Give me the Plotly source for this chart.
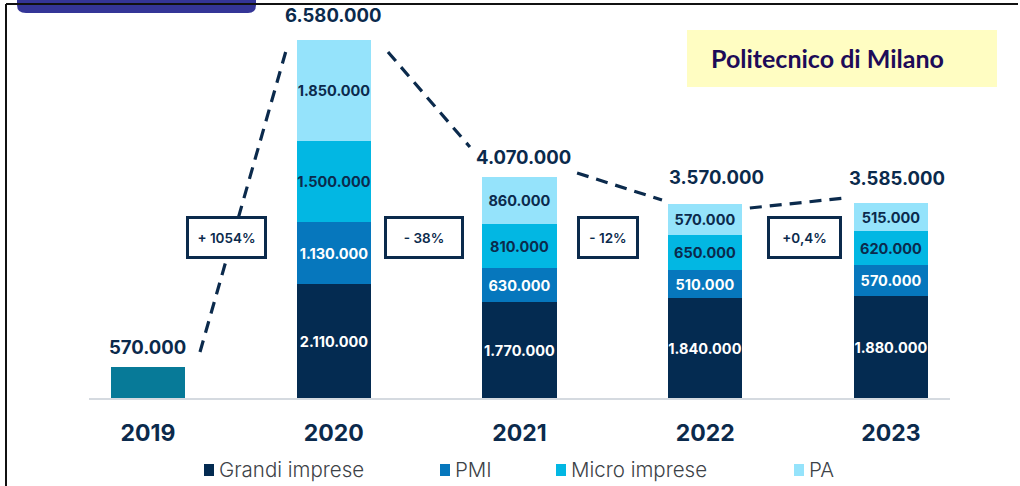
import plotly.graph_objects as go

# --- data -------------------------------------------------------------
years = ["2019", "2020", "2021", "2022", "2023"]
total_2019 = 570000
grandi_imprese = [2110000, 1770000, 1840000, 1880000]   # 2020-2023
pmi = [1130000, 630000, 510000, 570000]
micro_imprese = [1500000, 810000, 650000, 620000]
pa = [1850000, 860000, 570000, 515000]
totals = [570000, 6580000, 4070000, 3570000, 3585000]   # reported totals
variations = ["+ 1054%", "- 38%", "- 12%", "+0,4%"]
series_names = ["Grandi imprese", "PMI", "Micro imprese", "PA"]

# --- style ------------------------------------------------------------
NAVY = "#0b2a4c"
C_GRANDI = "#042b51"
C_PMI = "#0677bd"
C_MICRO = "#02b7e3"
C_PA = "#95e3fb"
C_2019 = "#077a98"
FONT = "Inter"

W, H = 1020, 486
L, R, T, B = 89, 70, 0, 88
PW, PH = W - L - R, H - T - B
Y_MAX = 7335000


def px(x):
    return (x - L) / PW


def py(y):
    return (H - B - y) / PH


def it(v):
    return f"{v:,}".replace(",", ".")


x_2019 = [0]
x_stack = [1, 2, 3, 4]
BAR_W = 0.4

fig = go.Figure()

fig.add_trace(go.Bar(
    x=x_2019, y=[total_2019], width=BAR_W, marker_color=C_2019,
    marker_line_width=0, showlegend=False, hoverinfo="skip",
))

stack = [
    (grandi_imprese, C_GRANDI, "white"),
    (pmi, C_PMI, "white"),
    (micro_imprese, C_MICRO, NAVY),
    (pa, C_PA, NAVY),
]
for name, (vals, col, tcol) in zip(series_names, stack):
    fig.add_trace(go.Bar(
        x=x_stack, y=vals, name=name, width=BAR_W,
        marker_color=col, marker_line_width=0,
        text=[it(v) for v in vals], textposition="inside", textangle=0,
        insidetextanchor="middle", constraintext="none",
        textfont=dict(family=FONT, size=14.5, color=tcol, weight=700),
        showlegend=False, hoverinfo="skip",
    ))

# dashed connectors between yearly totals: (start dx, start dy, end dx, end dy)
connector_offsets = [
    (0.28, 278000, -0.248, -74000),
    (0.292, -203000, -0.267, 556000),
    (0.31, 77000, -0.233, 79000),
    (0.24, -68000, -0.248, 101000),
]
for i, (sdx, sdy, edx, edy) in enumerate(connector_offsets):
    fig.add_trace(go.Scatter(
        x=[i + sdx, i + 1 + edx],
        y=[totals[i] + sdy, totals[i + 1] + edy],
        mode="lines", line=dict(color=NAVY, width=3.2, dash="12px,8px"),
        showlegend=False, hoverinfo="skip", cliponaxis=False,
    ))

annotations = []

# totals above the bars
label_dx = [0, -1, 4, 11, 6]
label_gap = [7, 12, 7, 14, 12]
stack_heights = [total_2019] + [a + b + c + d for a, b, c, d in zip(grandi_imprese, pmi, micro_imprese, pa)]
for i, (tot, h) in enumerate(zip(totals, stack_heights)):
    annotations.append(dict(
        x=i, y=h, xref="x", yref="y", text=it(tot), showarrow=False,
        xanchor="center", yanchor="bottom", xshift=label_dx[i], yshift=label_gap[i],
        font=dict(family=FONT, size=18.5, color=NAVY, weight=700),
    ))

# variation boxes
box_x = [0.42, 1.486, 2.476, 3.536]
box_w = [75, 74, 56, 69]
for xv, txt, bw in zip(box_x, variations, box_w):
    annotations.append(dict(
        x=xv, y=py(237.5), xref="x", yref="paper", text=txt, showarrow=False,
        xanchor="center", yanchor="middle", width=bw, height=37,
        bordercolor=NAVY, borderwidth=3, borderpad=0, bgcolor="white",
        font=dict(family=FONT, size=13.5, color=NAVY, weight=600),
    ))

# source box text
annotations.append(dict(
    x=px(709), y=py(58), xref="paper", yref="paper", text="Politecnico di Milano",
    showarrow=False, xanchor="left", yanchor="middle",
    font=dict(family="Lato", size=25, color="#1d0b58", weight=700),
))

# legend
legend_items = [
    (series_names[0], C_GRANDI, 204),
    (series_names[1], C_PMI, 440),
    (series_names[2], C_MICRO, 556),
    (series_names[3], C_PA, 794),
]
shapes = []
for name, col, x0 in legend_items:
    shapes.append(dict(type="rect", xref="paper", yref="paper",
                       x0=px(x0), x1=px(x0 + 10), y0=py(476), y1=py(464),
                       fillcolor=col, line_width=0))
    annotations.append(dict(
        x=px(x0 + 13), y=py(470), xref="paper", yref="paper", text=name,
        showarrow=False, xanchor="left", yanchor="middle",
        font=dict(family=FONT, size=20.5, color="#3d4247", weight=300),
    ))

# yellow source panel
shapes.append(dict(type="rect", xref="paper", yref="paper",
                   x0=px(687), x1=px(997), y0=py(87), y1=py(30),
                   fillcolor="#fffdc2", line_width=0, layer="below"))

# header tab and frame
tab = (f"M {px(17)},{py(-6)} L {px(256)},{py(-6)} L {px(256)},{py(5)} "
       f"Q {px(256)},{py(13)} {px(248)},{py(13)} L {px(26)},{py(13)} "
       f"Q {px(17)},{py(13)} {px(17)},{py(5)} Z")
shapes.append(dict(type="path", xref="paper", yref="paper", path=tab,
                   fillcolor="#343597", line_width=0))
shapes.append(dict(type="line", xref="paper", yref="paper",
                   x0=px(6), x1=px(1018), y0=py(4), y1=py(4),
                   line=dict(color="#111111", width=2)))
shapes.append(dict(type="line", xref="paper", yref="paper",
                   x0=px(6), x1=px(6), y0=py(4), y1=py(490),
                   line=dict(color="#111111", width=2)))

fig.update_layout(
    width=W, height=H, margin=dict(l=L, r=R, t=T, b=B, pad=0),
    barmode="stack", bargap=0,
    uniformtext=dict(minsize=14.5, mode="show"),
    plot_bgcolor="white", paper_bgcolor="white",
    annotations=annotations, shapes=shapes,
    xaxis=dict(range=[-0.3175, 4.3175], tickvals=list(range(5)), ticktext=years,
               showgrid=False, zeroline=False, showline=True, linecolor="#d5dae0",
               linewidth=1.5, ticks="", ticklabelstandoff=14,
               tickfont=dict(family=FONT, size=23, color=NAVY, weight=700)),
    yaxis=dict(range=[0, Y_MAX], visible=False, showgrid=False, zeroline=False),
    showlegend=False,
)

fig.write_html("out.html")
